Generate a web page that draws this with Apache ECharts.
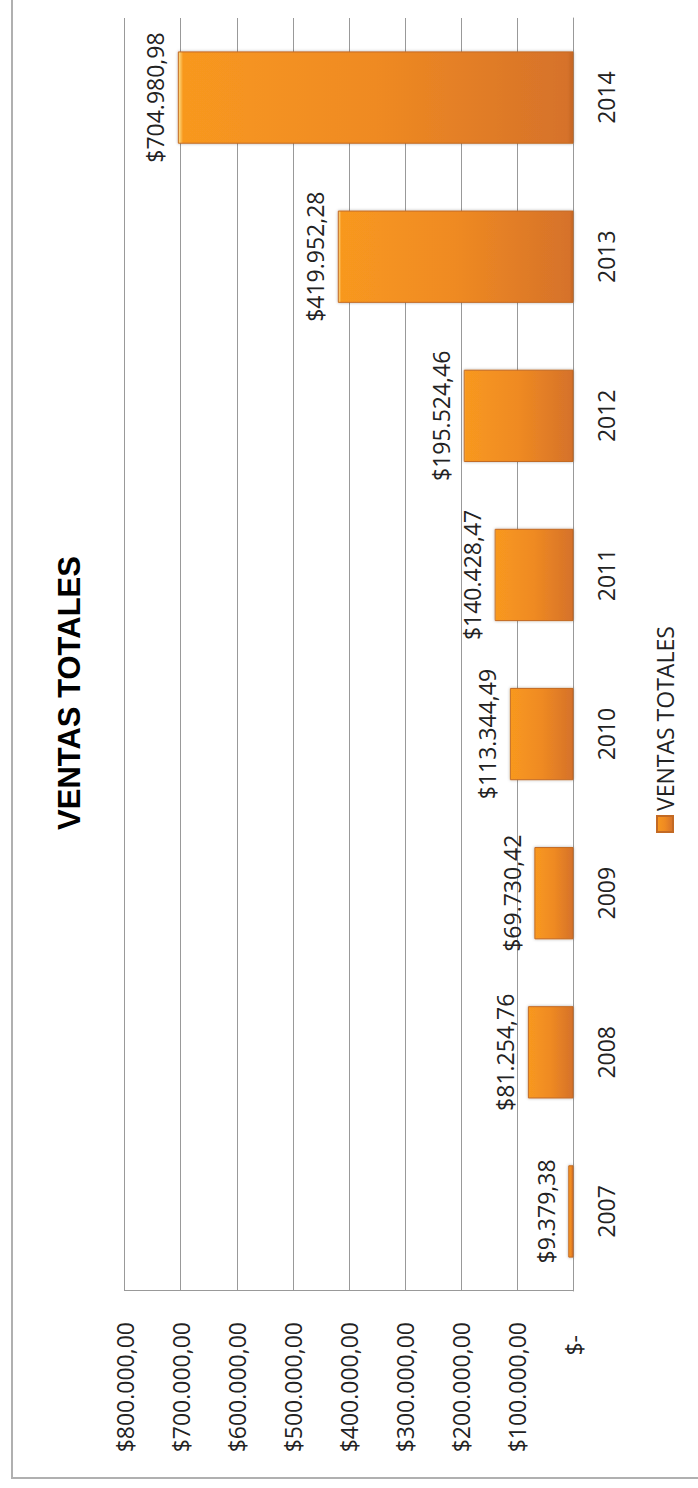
<!DOCTYPE html>
<html>
<head>
<meta charset="utf-8">
<script src="https://cdn.jsdelivr.net/npm/echarts@6/dist/echarts.min.js"></script>
<style>
html, body { margin: 0; padding: 0; width: 698px; height: 1488px; overflow: hidden; background: #fff; }
/* el grafico original esta girado 90 grados */
#ventas { position: absolute; left: 0; top: 0; width: 1488px; height: 698px;
  transform-origin: 0 0; transform: translateY(1488px) rotate(-90deg); }
</style>
</head>
<body>
<div id="ventas"></div>
<script>
var anios = ['2007', '2008', '2009', '2010', '2011', '2012', '2013', '2014'];
var ventas = [9379.38, 81254.76, 69730.42, 113344.49, 140428.47, 195524.46, 419952.28, 704980.98];
var ejeValores = [0, 100000, 200000, 300000, 400000, 500000, 600000, 700000, 800000];
var ejeEtiquetas = ['$-', '$100.000,00', '$200.000,00', '$300.000,00', '$400.000,00',
  '$500.000,00', '$600.000,00', '$700.000,00', '$800.000,00'];

var fuente = "'Open Sans', 'Noto Sans', sans-serif";

function formatoPesos(v) {
  var p = v.toFixed(2).split('.');
  return '$' + p[0].replace(/\B(?=(\d{3})+(?!\d))/g, '.') + ',' + p[1];
}

var colorBarra = new echarts.graphic.LinearGradient(0, 0, 0, 1, [
  { offset: 0, color: '#FDE38C' },
  { offset: 0.012, color: '#F8981F' },
  { offset: 0.5, color: '#EF8A22' },
  { offset: 0.985, color: '#D6722A' },
  { offset: 1, color: '#C56625' }
]);

var myChart = echarts.init(document.getElementById('ventas'), null, { renderer: 'svg' });

option = {
  backgroundColor: '#fff',
  title: {
    text: 'VENTAS TOTALES',
    left: 790,
    top: 49,
    textAlign: 'center',
    textStyle: {
      fontFamily: "'Liberation Sans Narrow', 'Liberation Sans', sans-serif",
      fontWeight: 'bold',
      fontSize: 31,
      color: '#000'
    }
  },
  legend: {
    data: ['VENTAS TOTALES'],
    left: 650,
    top: 648.5,
    icon: 'rect',
    itemWidth: 16,
    itemHeight: 16,
    textStyle: { fontFamily: fuente, fontSize: 23, color: '#222' }
  },
  graphic: [{
    type: 'rect',
    silent: true,
    shape: { x: 10, y: 12, width: 2000, height: 2000 },
    style: { fill: 'none', stroke: '#B0B0B0', lineWidth: 2 }
  }],
  grid: { left: 197, right: 18, top: 124.5, bottom: 124.5 },
  xAxis: {
    type: 'category',
    data: anios,
    axisLine: { show: true, lineStyle: { color: '#999', width: 1 } },
    axisTick: { show: false },
    axisLabel: { margin: 21, fontFamily: fuente, fontSize: 23, color: '#222' }
  },
  yAxis: {
    type: 'value',
    min: ejeValores[0],
    max: ejeValores[ejeValores.length - 1],
    interval: ejeValores[1] - ejeValores[0],
    axisLine: { show: true, lineStyle: { color: '#999', width: 1 } },
    axisTick: { show: false },
    splitLine: { lineStyle: { color: '#999', width: 1 } },
    axisLabel: {
      margin: 31,
      fontFamily: fuente,
      fontSize: 23,
      color: '#222',
      formatter: function (v) {
        var i = ejeValores.indexOf(v);
        return i === 0 ? '{z|' + ejeEtiquetas[0] + '}' : ejeEtiquetas[i];
      },
      rich: { z: { fontFamily: fuente, fontSize: 23, color: '#222', padding: [0, 13, 0, 0] } }
    }
  },
  series: [{
    name: 'VENTAS TOTALES',
    type: 'bar',
    barWidth: '58%',
    data: ventas,
    itemStyle: {
      color: colorBarra,
      borderColor: '#C36A24',
      borderWidth: 1,
      shadowColor: 'rgba(0,0,0,0.3)',
      shadowBlur: 3
    },
    label: {
      show: true,
      position: 'top',
      distance: 11,
      fontFamily: fuente,
      fontSize: 23,
      color: '#222',
      formatter: function (p) { return formatoPesos(p.value); }
    }
  }]
};

myChart.setOption(option);
</script>
</body>
</html>
